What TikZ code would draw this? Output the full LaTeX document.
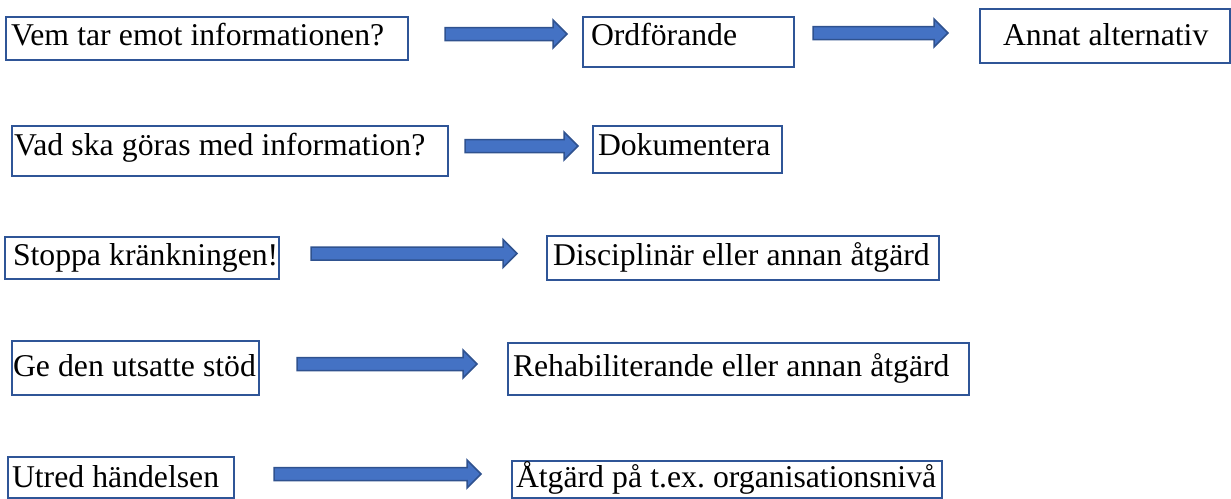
\documentclass[tikz,border=0pt]{standalone}
\usepackage{fontspec}
\setmainfont{Liberation Serif}
\usepackage{tikz}
\usetikzlibrary{calc}
\definecolor{boxblue}{HTML}{2F5597}
\definecolor{arrowfill}{HTML}{4472C4}
\definecolor{arrowline}{HTML}{2F528F}
\frenchspacing
\tikzset{
	box/.style={draw=boxblue,line width=1pt,anchor=north west,align=left,inner ysep=0pt,
		font=\fontsize{15.85}{19}\selectfont,
		execute at begin node={\spaceskip=4.1pt\hbox\bgroup},execute at end node={\egroup}},
	fatarrow/.style={fill=arrowfill,draw=arrowline,line width=0.75pt,line join=miter}
}
% block arrow from #1 to #2, gaps #3/#4 at the ends, #5 = vertical shift
\newcommand{\fatarrow}[5]{%
	\coordinate (s) at ($(#1.east)+(#3,#5)$);
	\coordinate (t0) at ($(#2.west)+(-#4,0)$);
	\coordinate (t) at (t0 |- s);
	\filldraw[fatarrow] ($(s)+(0,-6.5)$) -- ($(t)+(-14,-6.5)$) -- ($(t)+(-14,-14)$) -- (t)
		-- ($(t)+(-14,14)$) -- ($(t)+(-14,6.5)$) -- ($(s)+(0,6.5)$) -- cycle;
}

\begin{document}
\begin{tikzpicture}[x=0.5pt,y=-0.5pt]
		\useasboundingbox (0,0) rectangle (1231,498);
		
		\node[box,inner xsep=2.5pt,text width=196pt,text height=14pt,text depth=7.5pt] (vem) at (5,16) {Vem tar emot informationen?};
		\node[box,inner xsep=4pt,text width=97.5pt,text height=14pt,text depth=11pt] (ordf) at (582,16) {Ordförande};
		\node[box,inner xsep=11.5pt,text width=102pt,text height=18pt,text depth=9pt] (annat) at (979,8) {Annat alternativ};
		
		\node[box,inner xsep=1pt,text width=216pt,text height=14.5pt,text depth=10.5pt] (vad) at (11,125) {Vad ska göras med information?};
		\node[box,inner xsep=2.5pt,text width=89.5pt,text height=14.5pt,text depth=9pt] (dok) at (592,125) {Dokumentera};
		
		\node[box,inner xsep=4pt,text width=129pt,text height=14pt,text depth=7pt] (stoppa) at (4,236) {Stoppa kränkningen!};
		\node[box,inner xsep=3pt,text width=190pt,text height=14.5pt,text depth=7.5pt] (disc) at (546,235) {Disciplinär eller annan åtgärd};
		
		\node[box,inner xsep=0.5pt,text width=122.5pt,text height=17.5pt,text depth=9.5pt] (stod) at (11,340) {Ge den utsatte stöd};
		\node[box,inner xsep=2.5pt,text width=225.5pt,text height=16.5pt,text depth=9.5pt] (rehab) at (507,342) {Rehabiliterande eller annan åtgärd};
		
		\node[box,inner xsep=2pt,text width=109pt,text height=15pt,text depth=5.5pt] (utred) at (7,456) {Utred händelsen};
		\node[box,inner xsep=2pt,text width=211pt,text height=13pt,text depth=5.5pt] (atgard) at (511,460) {Åtgärd på t.ex. organisationsnivå};
		
		\fatarrow{vem}{ordf}{36}{15}{-4.5}
		\fatarrow{ordf}{annat}{18}{31}{-9}
		\fatarrow{vad}{dok}{16}{14}{-5}
		\fatarrow{stoppa}{disc}{31}{29}{-4.5}
		\fatarrow{stod}{rehab}{37}{30}{-4}
		\fatarrow{utred}{atgard}{39}{30}{-3.5}
	\end{tikzpicture}
\end{document}
